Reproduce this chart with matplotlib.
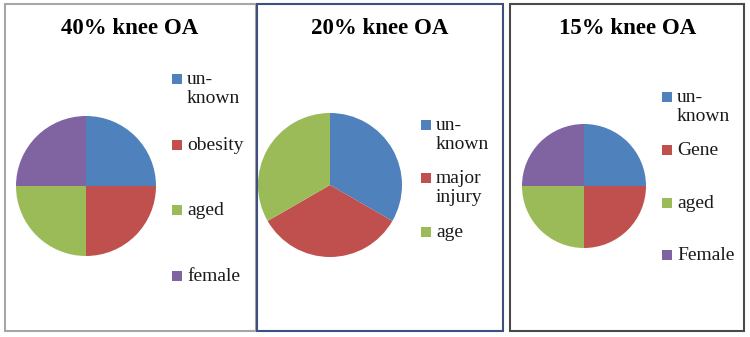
import matplotlib.pyplot as plt
from matplotlib.patches import Rectangle

# data
titles = ['40% knee OA', '20% knee OA', '15% knee OA']
labels_1 = ['un-\nknown', 'obesity', 'aged', 'female']
labels_2 = ['un-\nknown', 'major\ninjury', 'age']
labels_3 = ['un-\nknown', 'Gene', 'aged', 'Female']
values_1 = [1, 1, 1, 1]
values_2 = [1, 1, 1]
values_3 = [1, 1, 1, 1]

colors = ['#4F81BD', '#C0504D', '#9BBB59', '#8064A2']

W, H = 750, 337
fig = plt.figure(figsize=(W / 100, H / 100), dpi=100)
fig.patch.set_facecolor('white')

def fx(x):
    return x / W

def fy(y):
    return 1 - y / H

# panel layout in pixels: border box, pie centre/radius, title x, legend x and ys
panels = [
    dict(box=(5, 4, 251, 327), bc='#A6A6A6', c=(86, 186), r=70, tx=130,
         mx=172, lys=[79, 145, 210, 276], labels=labels_1, vals=values_1),
    dict(box=(257, 4, 246, 327), bc='#3F4F7F', c=(330, 185), r=72, tx=380,
         mx=421, lys=[125, 178, 232], labels=labels_2, vals=values_2),
    dict(box=(510, 4, 234, 327), bc='#4A4A4A', c=(584, 186), r=62, tx=628,
         mx=662, lys=[97, 150, 203, 255], labels=labels_3, vals=values_3),
]

for p, title in zip(panels, titles):
    bx, by, bw, bh = p['box']
    fig.patches.append(Rectangle((fx(bx), fy(by + bh)), fx(bw), bh / H,
                                 transform=fig.transFigure, fill=False,
                                 edgecolor=p['bc'], linewidth=1.5))
    cx, cy = p['c']
    r = p['r']
    ax = fig.add_axes([fx(cx - r), fy(cy + r), fx(2 * r), 2 * r / H])
    ax.pie(p['vals'], colors=colors[:len(p['vals'])], startangle=90,
           counterclock=False, radius=1, wedgeprops=dict(linewidth=0))
    ax.set_xlim(-1, 1)
    ax.set_ylim(-1, 1)
    ax.axis('off')

    fig.text(fx(p['tx']), fy(28), title, ha='center', va='center',
             family='Liberation Serif', fontweight='bold', fontsize=16.5)

    for i, (lab, ly) in enumerate(zip(p['labels'], p['lys'])):
        fig.patches.append(Rectangle((fx(p['mx']), fy(ly + 5)), fx(10), 10 / H,
                                     transform=fig.transFigure,
                                     facecolor=colors[i], edgecolor='none'))
        fig.text(fx(p['mx'] + 15), fy(ly - 8), lab, ha='left', va='top',
                 family='Liberation Serif', fontsize=14, color='#1a1a1a',
                 linespacing=1.15)

fig.savefig('out.png', dpi=100)
